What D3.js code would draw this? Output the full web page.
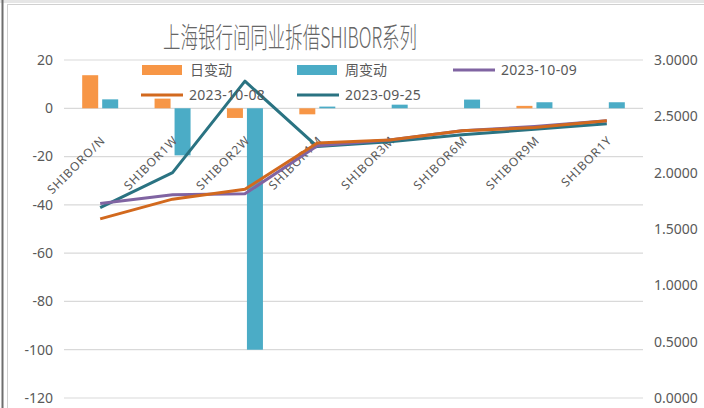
<!DOCTYPE html>
<html><head><meta charset="utf-8">
<script src="https://cdn.jsdelivr.net/npm/d3@7"></script>
<style>html,body{margin:0;padding:0;background:#fff;}svg{display:block;}</style>
</head><body>
<svg id="c" width="704" height="408"></svg>
<script>
const categories = ["SHIBORO/N","SHIBOR1W","SHIBOR2W","SHIBOR1M","SHIBOR3M","SHIBOR6M","SHIBOR9M","SHIBOR1Y"];
const dayChange  = [13.7, 4.0, -4.0, -2.5, 0, 0, 1.0, 0];
const weekChange = [3.7, -19.5, -100, 0.7, 1.5, 3.6, 2.5, 2.5];
const s20231009 = [1.727, 1.805, 1.812, 2.239, 2.290, 2.372, 2.410, 2.460];
const s20231008 = [1.590, 1.765, 1.852, 2.264, 2.290, 2.372, 2.400, 2.460];
const s20230925 = [1.690, 2.000, 2.812, 2.232, 2.275, 2.336, 2.385, 2.435];
const leftTicks = [20, 0, -20, -40, -60, -80, -100, -120];
const rightTicks = [3, 2.5, 2, 1.5, 1, 0.5, 0];
const titleText = "上海银行间同业拆借SHIBOR系列";

const svg = d3.select("#c");
const font = "'Noto Sans', 'DejaVu Sans', sans-serif";
const cjk = "'Noto Sans CJK SC', sans-serif";
const grey = "#595959";

// frame
svg.append("rect").attr("x",0).attr("y",0).attr("width",704).attr("height",3).attr("fill","#e6e6e6");
svg.append("line").attr("x1",2.5).attr("x2",2.5).attr("y1",0).attr("y2",408).attr("stroke","#6e6e6e").attr("stroke-width",2);
svg.append("rect").attr("x",7.5).attr("y",4.5).attr("width",720).attr("height",420)
  .attr("fill","none").attr("stroke","#d0d0d0");

const x = d3.scaleBand().domain(categories).range([64, 643]).padding(0);
const yL = d3.scaleLinear().domain([-120, 20]).range([398, 60]);
const yR = d3.scaleLinear().domain([0, 3]).range([398, 60]);

// gridlines
svg.append("g").selectAll("line").data(leftTicks).join("line")
  .attr("x1",64).attr("x2",643).attr("y1",d=>yL(d)).attr("y2",d=>yL(d))
  .attr("stroke","#d9d9d9").attr("stroke-width",1.2);

// left axis labels
svg.append("g").selectAll("text").data(leftTicks).join("text")
  .attr("x",53).attr("y",d=>yL(d)).attr("dy","0.35em").attr("text-anchor","end")
  .attr("font-family",font).attr("font-size",14).attr("fill",grey)
  .text(d=>d3.format("d")(d).replace("−","-"));

// right axis labels
svg.append("g").selectAll("text").data(rightTicks).join("text")
  .attr("x",654).attr("y",d=>yR(d)).attr("dy","0.35em").attr("text-anchor","start")
  .attr("font-family",font).attr("font-size",14).attr("fill",grey)
  .text(d=>d3.format(".4f")(d));

// bars
const bw = 16;
const barData = [];
categories.forEach((c,i)=>{
  barData.push({c, k:"day", v:dayChange[i]});
  barData.push({c, k:"week", v:weekChange[i]});
});
const barColor = {day:"#F79646", week:"#4BACC6"};
svg.append("g").selectAll("rect").data(barData).join("rect")
  .attr("x", d=> x(d.c) + x.bandwidth()/2 + (d.k==="day" ? -18 : 2))
  .attr("width", bw)
  .attr("y", d=> Math.min(yL(d.v), yL(0)))
  .attr("height", d=> Math.abs(yL(d.v)-yL(0)))
  .attr("fill", d=>barColor[d.k]);

// category labels
svg.append("g").selectAll("text").data(categories).join("text")
  .attr("transform", d=>`translate(${x(d)+x.bandwidth()/2+6},${141}) rotate(-45)`)
  .attr("text-anchor","end")
  .attr("font-family",font).attr("font-size",12).attr("letter-spacing",1).attr("fill",grey)
  .text(d=>d);

// lines
const line = d3.line().x((d,i)=>x(categories[i])+x.bandwidth()/2).y(d=>yR(d));
const series = [
  {name:"2023-10-09", data:s20231009, color:"#8064A2"},
  {name:"2023-10-08", data:s20231008, color:"#D2691E"},
  {name:"2023-09-25", data:s20230925, color:"#2A7382"}
];
[series[2], series[0], series[1]].forEach(s=>{
  svg.append("path").attr("d", line(s.data)).attr("fill","none")
    .attr("stroke", s.color).attr("stroke-width",3).attr("stroke-linejoin","round");
});

// legend
const leg = svg.append("g");
const legItems = [
  {type:"rect", color:"#F79646", label:"日变动", x:142, y:70},
  {type:"rect", color:"#4BACC6", label:"周变动", x:297, y:70},
  {type:"line", color:"#8064A2", label:"2023-10-09", x:453, y:70},
  {type:"line", color:"#D2691E", label:"2023-10-08", x:141, y:95},
  {type:"line", color:"#2A7382", label:"2023-09-25", x:297, y:95}
];
legItems.forEach(it=>{
  if (it.type==="rect") {
    leg.append("rect").attr("x",it.x).attr("y",it.y-5).attr("width",40).attr("height",10).attr("fill",it.color);
  } else {
    leg.append("line").attr("x1",it.x).attr("x2",it.x+42).attr("y1",it.y).attr("y2",it.y)
      .attr("stroke",it.color).attr("stroke-width",3);
  }
  leg.append("text").attr("x",it.x+48).attr("y",it.y).attr("dy","0.35em")
    .attr("font-family", it.type==="rect" ? cjk : font).attr("font-size",14).attr("fill",grey)
    .attr("letter-spacing", it.type==="rect" ? 0 : 0.3)
    .text(it.label);
});

// title
svg.append("text").attr("x",163).attr("y",48)
  .attr("font-family",cjk).attr("font-size",28).attr("font-weight",300).attr("fill","#666")
  .attr("textLength",254).attr("lengthAdjust","spacingAndGlyphs")
  .text(titleText);
</script>
</body></html>
